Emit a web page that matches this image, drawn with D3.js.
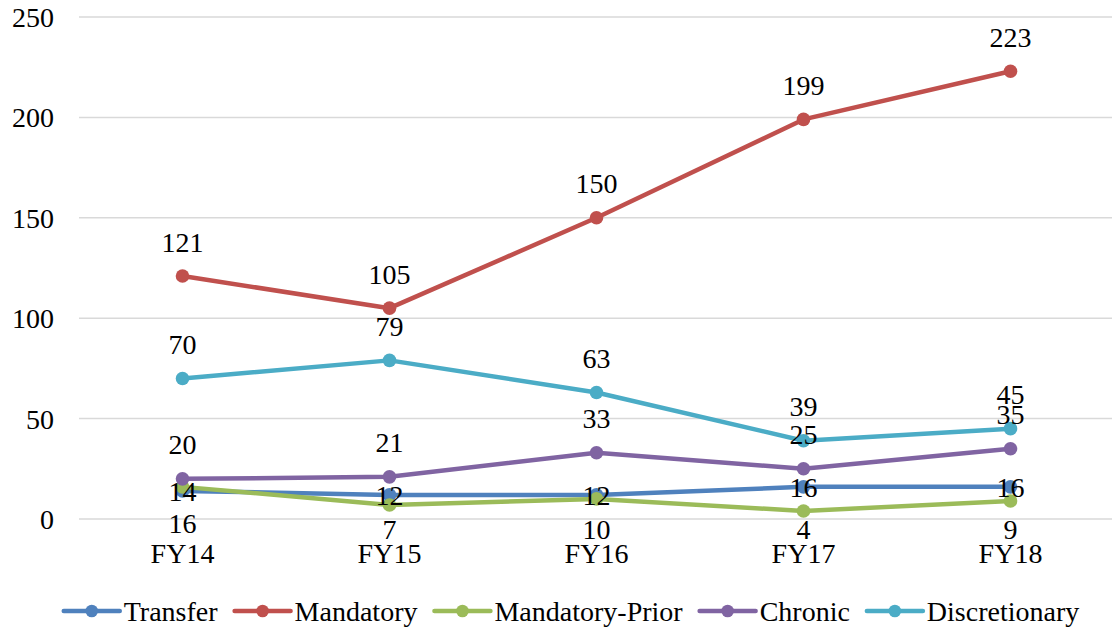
<!DOCTYPE html>
<html>
<head>
<meta charset="utf-8">
<script src="https://cdn.jsdelivr.net/npm/d3@7/dist/d3.min.js"></script>
<style>
  html, body { margin: 0; padding: 0; background: #fff; }
  svg { display: block; font-family: "Liberation Serif", "Times New Roman", serif; }
</style>
</head>
<body>
<svg id="chart" width="1112" height="632"></svg>
<script>
// Fiscal years on the x axis
const years = ["FY14", "FY15", "FY16", "FY17", "FY18"];

// Series values per fiscal year
const transfer       = [14, 12, 12, 16, 16];
const mandatory      = [121, 105, 150, 199, 223];
const mandatoryPrior = [16, 7, 10, 4, 9];
const chronic        = [20, 21, 33, 25, 35];
const discretionary  = [70, 79, 63, 39, 45];

// Y axis ticks
const yTicks = [0, 50, 100, 150, 200, 250];

const series = [
  { name: "Transfer",        values: transfer,       color: "#4F81BD", label: "center" },
  { name: "Mandatory",       values: mandatory,      color: "#C0504D", label: "above" },
  { name: "Mandatory-Prior", values: mandatoryPrior, color: "#9BBB59", label: "below" },
  { name: "Chronic",         values: chronic,        color: "#8064A2", label: "above" },
  { name: "Discretionary",   values: discretionary,  color: "#4BACC6", label: "above" }
];

const svg = d3.select("#chart");
const plotLeft = 79, plotRight = 1114, plotTop = 17, plotBottom = 519;

const x = d3.scalePoint().domain(years).range([plotLeft, plotRight]).padding(0.5);
const y = d3.scaleLinear().domain([0, 250]).range([plotBottom, plotTop]);

// Horizontal gridlines
svg.append("g").selectAll("line").data(yTicks).join("line")
  .attr("x1", plotLeft).attr("x2", 1112)
  .attr("y1", d => y(d)).attr("y2", d => y(d))
  .attr("stroke", "#d9d9d9").attr("stroke-width", 1.5);

// Y tick labels
svg.append("g").selectAll("text").data(yTicks).join("text")
  .attr("x", 54).attr("y", d => y(d) + 10)
  .attr("text-anchor", "end")
  .attr("font-size", 28).attr("fill", "#000")
  .text(d => d);

// X category labels
svg.append("g").selectAll("text").data(years).join("text")
  .attr("x", d => x(d)).attr("y", 563)
  .attr("text-anchor", "middle")
  .attr("font-size", 28).attr("fill", "#000")
  .text(d => d);

const line = d3.line().x((d, i) => x(years[i])).y(d => y(d));

// Lines and markers
series.forEach(s => {
  const g = svg.append("g");
  g.append("path").datum(s.values)
    .attr("d", line).attr("fill", "none")
    .attr("stroke", s.color).attr("stroke-width", 4.5)
    .attr("stroke-linejoin", "round").attr("stroke-linecap", "round");
  g.selectAll("circle").data(s.values).join("circle")
    .attr("cx", (d, i) => x(years[i])).attr("cy", d => y(d))
    .attr("r", 6.8).attr("fill", s.color);
});

// Data labels
series.forEach(s => {
  svg.append("g").selectAll("text").data(s.values).join("text")
    .attr("x", (d, i) => x(years[i]))
    .attr("y", d => {
      if (s.label === "above") return y(d) - 24.5;
      if (s.label === "center") return y(d) + 10;
      return Math.min(y(d) + 46, y(0) + 20);
    })
    .attr("text-anchor", "middle")
    .attr("font-size", 28).attr("fill", "#000")
    .text(d => d);
});

// Legend
const legend = svg.append("g");
const legendY = 611;
const legendGap = 17;
let cursor = 0;
series.forEach(s => {
  const item = legend.append("g");
  item.append("line").attr("x1", 0).attr("x2", 56)
    .attr("y1", 0).attr("y2", 0)
    .attr("stroke", s.color).attr("stroke-width", 4.5).attr("stroke-linecap", "round");
  item.append("circle").attr("cx", 28).attr("cy", 0).attr("r", 6.3).attr("fill", s.color);
  const t = item.append("text").attr("x", 60).attr("y", 9.5)
    .attr("font-size", 28).attr("fill", "#000").text(s.name);
  const w = 60 + t.node().getComputedTextLength();
  item.attr("transform", `translate(${cursor},${legendY})`);
  cursor += w + legendGap;
});
const totalW = cursor - legendGap;
legend.attr("transform", `translate(${571.5 - totalW / 2},0)`);
</script>
</body>
</html>
